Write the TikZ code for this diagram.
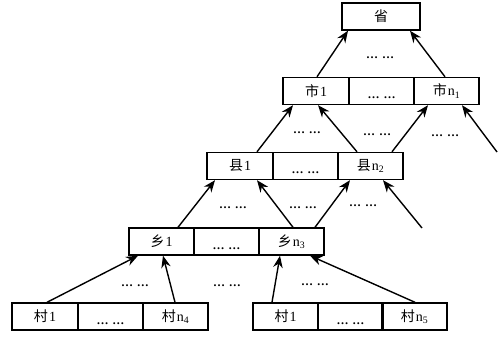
\documentclass[tikz,border=0pt]{standalone}
\usepackage{fontspec}
\setmainfont{Liberation Serif}
\newfontfamily\cjk{Noto Sans CJK SC}
\usetikzlibrary{arrows.meta}
\tikzset{
  cell/.style={draw, line width=1.4pt, rectangle, minimum height=27pt, inner sep=0pt, font=\fontsize{14}{15}\selectfont},
  w65/.style={minimum width=65pt},
  w66/.style={minimum width=66pt},
  arr/.style={line width=1.4pt, -{Stealth[length=12pt, width=9.5pt]}},
  gap/.style={font=\fontsize{12}{13}\selectfont\bfseries, inner sep=0pt},
  gapin/.style={font=\fontsize{12}{13}\selectfont\bfseries, inner sep=0pt, anchor=base}
}
\newcommand{\moredots}{…\hspace{4pt}…}
\newcommand{\lab}[2]{{\cjk #1}\kern1pt#2}
\begin{document}
\begin{tikzpicture}[x=1pt, y=-1pt]
\useasboundingbox (0,0) rectangle (498,337);

% province
\node[cell, minimum width=78pt] (sheng) at (381,16.5) {\cjk 省};

% city row
\node[cell, w66] (s1) at (316,91) {\lab{市}{1}};
\node[cell, w65] (s2) at (381.5,91) {};
\node[cell, w65] (s3) at (446.5,91) {\lab{市}{n\textsubscript{1}}};
\node[gapin] at (381.5,98) {\moredots};

% county row
\node[cell, w66] (x1) at (240,166) {\lab{县}{1}};
\node[cell, w65] (x2) at (305.5,166) {};
\node[cell, w65] (x3) at (370.5,166) {\lab{县}{n\textsubscript{2}}};
\node[gapin] at (305.5,173) {\moredots};

% township row
\node[cell, w65] (t1) at (161.5,241.5) {\lab{乡}{1}};
\node[cell, w65] (t2) at (226.5,241.5) {};
\node[cell, w65] (t3) at (291.5,241.5) {\lab{乡}{n\textsubscript{3}}};
\node[gapin] at (226.5,249) {\moredots};

% village rows
\node[cell, w66] (a1) at (45,316.5) {\lab{村}{1}};
\node[cell, w65] (a2) at (110.5,316.5) {};
\node[cell, w65] (a3) at (175.5,316.5) {\lab{村}{n\textsubscript{4}}};
\node[gapin] at (110.5,324) {\moredots};

\node[cell, w65] (b1) at (285.5,316.5) {\lab{村}{1}};
\node[cell, w65] (b2) at (350.5,316.5) {};
\node[cell, w65] (b3) at (414.5,316.5) {\lab{村}{n\textsubscript{5}}};
\node[gapin] at (350.5,324) {\moredots};

% loose ends of connectors leaving the picture
\coordinate (e1) at (497,152);
\coordinate (e2) at (422,228);

% city -> province
\draw[arr] ([xshift=1pt]s1.north) -- ([xshift=-33pt]sheng.south);
\draw[arr] ([xshift=-1.5pt]s3.north) -- ([xshift=29pt]sheng.south);
\node[gap] at (380,58) {\moredots};

% county -> city
\draw[arr] ([xshift=17pt]x1.north) -- ([xshift=-23pt]s1.south);
\draw[arr] ([xshift=-13.5pt]x3.north) -- ([xshift=2pt]s1.south);
\draw[arr] ([xshift=21.5pt]x3.north) -- ([xshift=-18.5pt]s3.south);
\draw[arr] (e1) -- ([xshift=15.5pt]s3.south);
\node[gap] at (307,133) {\moredots};
\node[gap] at (377,135) {\moredots};
\node[gap] at (445,136) {\moredots};

% township -> county
\draw[arr] ([xshift=16.5pt]t1.north) -- ([xshift=-25pt]x1.south);
\draw[arr] ([xshift=1.5pt]t3.north) -- ([xshift=17pt]x1.south);
\draw[arr] ([xshift=23.5pt]t3.north) -- ([xshift=-20.5pt]x3.south);
\draw[arr] (e2) -- ([xshift=12.5pt]x3.south);
\node[gap] at (233,208) {\moredots};
\node[gap] at (303,208) {\moredots};
\node[gap] at (363,206) {\moredots};

% village -> township
\draw[arr] ([xshift=2pt]a1.north) -- ([xshift=-23.5pt]t1.south);
\draw[arr] ([xshift=-0.5pt]a3.north) -- ([xshift=1.5pt]t1.south);
\draw[arr] ([xshift=-13.5pt]b1.north) -- ([xshift=-11.5pt]t3.south);
\draw[arr] ([xshift=0.5pt]b3.north) -- ([xshift=18.5pt]t3.south);
\node[gap] at (135,286) {\moredots};
\node[gap] at (227,286) {\moredots};
\node[gap] at (315,285) {\moredots};
\end{tikzpicture}
\end{document}
